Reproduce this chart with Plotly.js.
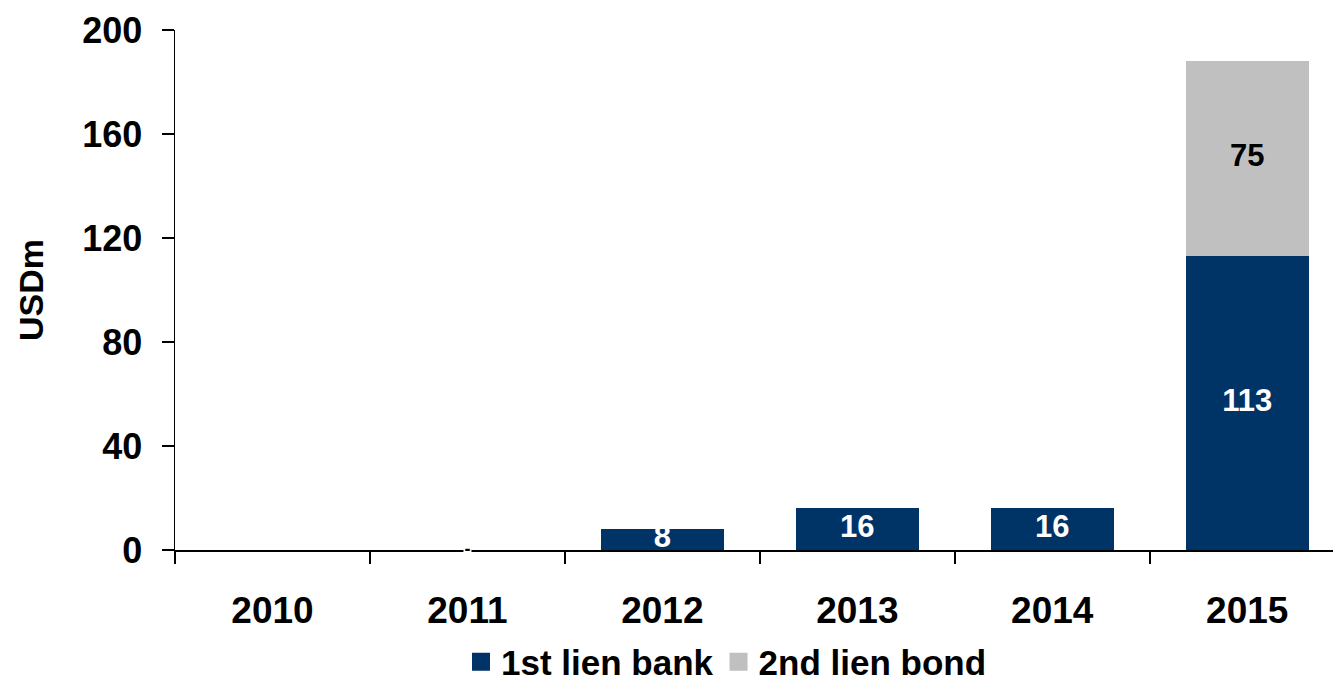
<!DOCTYPE html>
<html>
<head>
<meta charset="utf-8">
<script src="https://cdn.plot.ly/plotly-3.0.1.min.js"></script>
<style>
html,body{margin:0;padding:0;background:#fff;}
#chart{width:1333px;height:681px;}
</style>
</head>
<body>
<div id="chart"></div>
<script>
var years = ["2010", "2011", "2012", "2013", "2014", "2015"];
var firstLien = [null, 0, 8, 16, 16, 113];
var secondLien = [null, null, null, null, null, 75];
var firstLabels = ["", "-", "8", "16", "16", "113"];
var secondLabels = ["", "", "", "", "", "75"];
var seriesNames = ["1st lien bank", "2nd lien bond"];

var FONT = "Arial, 'Liberation Sans', sans-serif";
var navy = "#003366";
var grey = "#C0C0C0";

// label positions: middle of each stacked segment
var firstMid = firstLien.map(function(v){ return v === null ? null : v / 2; });
var secondMid = secondLien.map(function(v, i){
  return v === null ? null : (firstLien[i] || 0) + v / 2;
});
// zero-valued points: dash label sitting on the axis line
var zeroMid = firstLien.map(function(v){ return v === 0 ? 0 : null; });
var zeroText = firstLabels.map(function(t, i){ return firstLien[i] === 0 ? t : ""; });

var traces = [
  {type: "bar", name: seriesNames[0], x: years, y: firstLien,
   marker: {color: navy}, showlegend: false},
  {type: "bar", name: seriesNames[1], x: years, y: secondLien,
   marker: {color: grey}, showlegend: false},
  {type: "scatter", mode: "text", x: years, y: firstMid, text: firstLabels,
   textfont: {family: FONT, size: 31, color: "#ffffff", weight: "bold"},
   showlegend: false, hoverinfo: "skip", cliponaxis: false},
  {type: "scatter", mode: "text", x: years, y: secondMid, text: secondLabels,
   textfont: {family: FONT, size: 31, color: "#000000", weight: "bold"},
   showlegend: false, hoverinfo: "skip", cliponaxis: false},
  {type: "scatter", mode: "text", x: years, y: zeroMid, text: zeroText,
   textfont: {family: FONT, size: 18, color: "#000000", weight: "bold"},
   showlegend: false, hoverinfo: "skip", cliponaxis: false},
  // legend entries (larger square swatches)
  {type: "scatter", mode: "markers", name: seriesNames[0], x: [years[0]], y: [null],
   marker: {symbol: "square", size: 16, color: navy, line: {color: navy, width: 2}}},
  {type: "scatter", mode: "markers", name: seriesNames[1], x: [years[0]], y: [null],
   marker: {symbol: "square", size: 16, color: grey, line: {color: grey, width: 2}}}
];

var layout = {
  width: 1333, height: 681,
  margin: {l: 175, r: 0, t: 30, b: 131},
  paper_bgcolor: "#ffffff", plot_bgcolor: "#ffffff",
  barmode: "stack", bargap: 0.37,
  font: {family: FONT, color: "#000000", weight: "bold"},
  showlegend: true,
  legend: {orientation: "h", xref: "container", yref: "container",
           x: 0.545, xanchor: "center", y: 0.028, yanchor: "middle",
           font: {family: FONT, size: 35, color: "#000", weight: "bold"},
           itemwidth: 30, traceorder: "normal", tracegroupgap: 0},
  xaxis: {type: "category", range: [-0.5, 5.44], showline: true, linecolor: "#000", linewidth: 2,
          layer: "below traces",
          ticks: "outside", tickson: "boundaries", ticklen: 12, tickwidth: 1.5, tickcolor: "#000",
          tickfont: {family: FONT, size: 37, color: "#000", weight: "bold"},
          ticklabelstandoff: 27, showgrid: false, zeroline: false, fixedrange: true},
  yaxis: {range: [0, 200], tickvals: [0, 40, 80, 120, 160, 200], showline: true, linecolor: "#000", linewidth: 1.5,
          ticks: "outside", ticklen: 12, tickwidth: 1.5, tickcolor: "#000",
          tickfont: {family: FONT, size: 36, color: "#000", weight: "bold"},
          ticklabelstandoff: 12, showgrid: false, zeroline: false, fixedrange: true,
          title: {text: "USDm", font: {family: FONT, size: 34, color: "#000", weight: "bold"}, standoff: 28}}
};

Plotly.newPlot("chart", traces, layout, {displayModeBar: false, staticPlot: true});
</script>
</body>
</html>
